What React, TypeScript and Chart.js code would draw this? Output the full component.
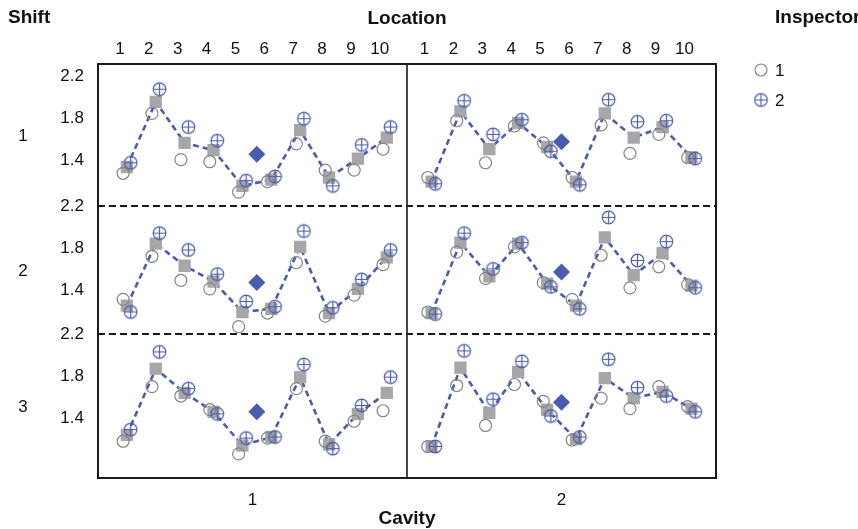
import React, { useEffect, useRef } from 'react';
import { Chart, registerables } from 'chart.js';

Chart.register(...registerables);

// ---------- data ----------
const locationLabels = ['1', '2', '3', '4', '5', '6', '7', '8', '9', '10'];
const cavityLabels = ['1', '2'];
const shiftLabels = ['1', '2', '3'];
const inspectorLabels = ['1', '2'];
const yTickValues = [1.4, 1.8, 2.2];

// Shift 1
const s1c1Insp1 = [1.28, 1.85, 1.41, 1.39, 1.10, 1.20, 1.56, 1.31, 1.31, 1.51];
const s1c1Mean = [1.34, 1.96, 1.57, 1.50, 1.16, 1.22, 1.69, 1.24, 1.42, 1.62];
const s1c1Insp2 = [1.38, 2.08, 1.72, 1.59, 1.21, 1.25, 1.80, 1.16, 1.55, 1.72];
const s1c2Insp1 = [1.24, 1.78, 1.38, 1.73, 1.57, 1.24, 1.74, 1.47, 1.65, 1.43];
const s1c2Mean = [1.20, 1.87, 1.51, 1.76, 1.53, 1.20, 1.85, 1.62, 1.72, 1.43];
const s1c2Insp2 = [1.18, 1.97, 1.65, 1.79, 1.49, 1.17, 1.98, 1.77, 1.78, 1.42];
// Shift 2
const s2c1Insp1 = [1.31, 1.72, 1.49, 1.41, 1.05, 1.18, 1.66, 1.15, 1.35, 1.64];
const s2c1Mean = [1.25, 1.84, 1.63, 1.48, 1.19, 1.22, 1.81, 1.18, 1.41, 1.71];
const s2c1Insp2 = [1.19, 1.94, 1.78, 1.55, 1.29, 1.24, 1.96, 1.23, 1.50, 1.78];
const s2c2Insp1 = [1.19, 1.76, 1.51, 1.81, 1.47, 1.31, 1.73, 1.42, 1.62, 1.45];
const s2c2Mean = [1.18, 1.85, 1.53, 1.84, 1.46, 1.25, 1.90, 1.54, 1.75, 1.44];
const s2c2Insp2 = [1.17, 1.94, 1.60, 1.85, 1.43, 1.22, 2.09, 1.68, 1.86, 1.42];
// Shift 3
const s3c1Insp1 = [1.18, 1.70, 1.61, 1.48, 1.06, 1.21, 1.68, 1.18, 1.37, 1.47];
const s3c1Mean = [1.24, 1.87, 1.64, 1.46, 1.14, 1.22, 1.79, 1.15, 1.44, 1.64];
const s3c1Insp2 = [1.29, 2.03, 1.68, 1.44, 1.21, 1.22, 1.91, 1.11, 1.52, 1.79];
const s3c2Insp1 = [1.13, 1.71, 1.33, 1.72, 1.56, 1.19, 1.59, 1.49, 1.70, 1.51];
const s3c2Mean = [1.13, 1.88, 1.45, 1.84, 1.48, 1.20, 1.78, 1.59, 1.65, 1.49];
const s3c2Insp2 = [1.13, 2.04, 1.58, 1.94, 1.42, 1.22, 1.96, 1.69, 1.61, 1.46];

// cell means (diamonds), per shift: [cavity 1, cavity 2]
const shift1CellMeans = [1.46, 1.58];
const shift2CellMeans = [1.47, 1.57];
const shift3CellMeans = [1.46, 1.55];

// ---------- layout / style ----------
const X_MIN = 0;
const X_MAX = 21.4;
const CAV_OFFSET = 10.55;
const DIVIDER = 10.7;
const JITTER = 0.13;
const DIAMOND_POS = 5.5;
const Y_RANGES = [
  [0.97, 2.32],
  [0.98, 2.2],
  [0.83, 2.2],
];
const FONT = "'Liberation Sans', Arial, Helvetica, sans-serif";
const BLUE = '#4a5cad';
const GRAY_SQ = '#a7a7a9';
const GRAY_CIRCLE = '#858585';
const TEXT = '#111111';

const panels = [
  { shift: 0, cav: 0, i1: s1c1Insp1, m: s1c1Mean, i2: s1c1Insp2, cm: shift1CellMeans[0] },
  { shift: 0, cav: 1, i1: s1c2Insp1, m: s1c2Mean, i2: s1c2Insp2, cm: shift1CellMeans[1] },
  { shift: 1, cav: 0, i1: s2c1Insp1, m: s2c1Mean, i2: s2c1Insp2, cm: shift2CellMeans[0] },
  { shift: 1, cav: 1, i1: s2c2Insp1, m: s2c2Mean, i2: s2c2Insp2, cm: shift2CellMeans[1] },
  { shift: 2, cav: 0, i1: s3c1Insp1, m: s3c1Mean, i2: s3c1Insp2, cm: shift3CellMeans[0] },
  { shift: 2, cav: 1, i1: s3c2Insp1, m: s3c2Mean, i2: s3c2Insp2, cm: shift3CellMeans[1] },
];

function makePlusCircle(r: number, color: string): HTMLCanvasElement {
  const size = Math.ceil(r * 2 + 4);
  const c = document.createElement('canvas');
  c.width = size;
  c.height = size;
  const ctx = c.getContext('2d')!;
  const cx = size / 2;
  ctx.strokeStyle = color;
  ctx.lineWidth = 1.2;
  ctx.beginPath();
  ctx.arc(cx, cx, r, 0, Math.PI * 2);
  ctx.stroke();
  ctx.beginPath();
  ctx.moveTo(cx - r, cx);
  ctx.lineTo(cx + r, cx);
  ctx.moveTo(cx, cx - r);
  ctx.lineTo(cx, cx + r);
  ctx.stroke();
  return c;
}

export default function App() {
  const ref = useRef<HTMLCanvasElement | null>(null);

  useEffect(() => {
    const canvas = ref.current;
    if (!canvas) return;
    const plusImg = makePlusCircle(6.3, BLUE);
    const xOf = (cav: number, loc: number) => loc + cav * CAV_OFFSET;

    const datasets: any[] = [];
    panels.forEach((p) => {
      const yId = 'y' + (p.shift + 1);
      datasets.push({
        type: 'line',
        label: 'mean',
        xAxisID: 'x',
        yAxisID: yId,
        data: p.m.map((v, i) => ({ x: xOf(p.cav, i + 1), y: v })),
        borderColor: BLUE,
        borderWidth: 2.6,
        borderDash: [6, 4],
        pointStyle: 'rect',
        pointRadius: 8.7,
        pointBackgroundColor: GRAY_SQ,
        pointBorderWidth: 0,
        pointBorderColor: GRAY_SQ,
        fill: false,
        tension: 0,
        order: 4,
      });
      datasets.push({
        type: 'scatter',
        label: inspectorLabels[0],
        xAxisID: 'x',
        yAxisID: yId,
        data: p.i1.map((v, i) => ({ x: xOf(p.cav, i + 1) - JITTER, y: v })),
        pointStyle: 'circle',
        pointRadius: 6,
        borderColor: GRAY_CIRCLE,
        backgroundColor: 'rgba(0,0,0,0)',
        borderWidth: 1.2,
        order: 3,
      });
      datasets.push({
        type: 'scatter',
        label: inspectorLabels[1],
        xAxisID: 'x',
        yAxisID: yId,
        data: p.i2.map((v, i) => ({ x: xOf(p.cav, i + 1) + JITTER, y: v })),
        pointStyle: plusImg,
        pointRadius: 6,
        order: 2,
      });
      datasets.push({
        type: 'scatter',
        label: 'cell mean',
        xAxisID: 'x',
        yAxisID: yId,
        data: [{ x: xOf(p.cav, DIAMOND_POS), y: p.cm }],
        pointStyle: 'rectRot',
        pointRadius: 8.5,
        backgroundColor: BLUE,
        borderColor: BLUE,
        borderWidth: 0,
        order: 1,
      });
    });

    const line = (ctx: CanvasRenderingContext2D, x1: number, y1: number, x2: number, y2: number) => {
      ctx.beginPath();
      ctx.moveTo(x1, y1);
      ctx.lineTo(x2, y2);
      ctx.stroke();
    };

    const framePlugin = {
      id: 'frame',
      beforeDatasetsDraw(chart: any) {
        const { ctx, chartArea: a, scales } = chart;
        ctx.save();
        ctx.strokeStyle = '#1a1a1a';
        ctx.lineWidth = 2;
        ctx.setLineDash([7, 4]);
        ['y2', 'y3'].forEach((id) => {
          const y = Math.round(scales[id].top);
          line(ctx, a.left, y, a.right, y);
        });
        ctx.setLineDash([]);
        const xd = scales.x.getPixelForValue(DIVIDER);
        ctx.lineWidth = 1.6;
        line(ctx, xd, a.top, xd, a.bottom);
        ctx.lineWidth = 2;
        ctx.strokeRect(a.left, a.top, a.right - a.left, a.bottom - a.top);
        ctx.restore();
      },
      afterDraw(chart: any) {
        const { ctx, scales } = chart;
        ctx.save();
        ctx.fillStyle = TEXT;
        ctx.textBaseline = 'middle';
        ctx.font = `bold 19px ${FONT}`;
        ctx.textAlign = 'left';
        ctx.fillText('Shift', 8, 18);
        ctx.fillText('Inspector', 775, 18);
        ctx.font = `17px ${FONT}`;
        ctx.textAlign = 'center';
        shiftLabels.forEach((lab, i) => {
          const s = scales['y' + (i + 1)];
          ctx.fillText(lab, 23, (s.top + s.bottom) / 2 + 1);
        });
        // legend
        ctx.textAlign = 'left';
        ctx.strokeStyle = GRAY_CIRCLE;
        ctx.lineWidth = 1.2;
        ctx.beginPath();
        ctx.arc(761, 70, 6, 0, Math.PI * 2);
        ctx.stroke();
        ctx.fillText(inspectorLabels[0], 775, 71);
        ctx.drawImage(plusImg, 761 - plusImg.width / 2, 100 - plusImg.height / 2);
        ctx.fillText(inspectorLabels[1], 775, 101);
        ctx.restore();
      },
    };

    const yAxis = (idx: number) => ({
      type: 'linear',
      position: 'left',
      stack: 'rows',
      stackWeight: Y_RANGES[idx][1] - Y_RANGES[idx][0],
      weight: 3 - idx,
      min: Y_RANGES[idx][0],
      max: Y_RANGES[idx][1],
      afterBuildTicks: (s: any) => {
        s.ticks = yTickValues.map((v) => ({ value: v }));
      },
      afterFit: (s: any) => {
        s.width = 98;
      },
      ticks: {
        callback: (v: any) => Number(v).toFixed(1),
        font: { size: 17, family: FONT },
        color: TEXT,
        padding: 14,
        autoSkip: false,
      },
      grid: { display: false, drawTicks: false },
      border: { display: false },
    });

    const chart = new Chart(canvas, {
      type: 'scatter',
      data: { datasets },
      plugins: [framePlugin],
      options: {
        animation: false,
        responsive: false,
        maintainAspectRatio: false,
        devicePixelRatio: 1,
        layout: { padding: { left: 0, right: 142, top: 0, bottom: 0 } },
        plugins: { legend: { display: false }, tooltip: { enabled: false } },
        scales: {
          x: {
            type: 'linear',
            position: 'bottom',
            min: X_MIN,
            max: X_MAX,
            afterBuildTicks: (s: any) => {
              s.ticks = [DIVIDER / 2, (DIVIDER + X_MAX) / 2].map((v) => ({ value: v }));
            },
            afterFit: (s: any) => {
              s.height = 51;
            },
            ticks: {
              callback: (_v: any, i: number) => cavityLabels[i],
              font: { size: 17, family: FONT },
              color: TEXT,
              padding: 12,
              autoSkip: false,
              maxRotation: 0,
            },
            grid: { display: false, drawTicks: false },
            border: { display: false },
            title: {
              display: true,
              text: 'Cavity',
              color: TEXT,
              font: { size: 19, weight: 'bold', family: FONT },
              padding: { top: 0, bottom: -1 },
            },
          },
          xTop: {
            type: 'linear',
            position: 'top',
            min: X_MIN,
            max: X_MAX,
            afterBuildTicks: (s: any) => {
              const t: any[] = [];
              cavityLabels.forEach((_c, ci) => {
                locationLabels.forEach((_l, li) => t.push({ value: xOf(ci, li + 1) }));
              });
              s.ticks = t;
            },
            afterFit: (s: any) => {
              s.height = 64;
            },
            ticks: {
              callback: (_v: any, i: number) => locationLabels[i % locationLabels.length],
              font: { size: 17, family: FONT },
              color: TEXT,
              padding: 4,
              labelOffset: -7,
              autoSkip: false,
              maxRotation: 0,
            },
            grid: { display: false, drawTicks: false },
            border: { display: false },
            title: {
              display: true,
              text: 'Location',
              color: TEXT,
              font: { size: 19, weight: 'bold', family: FONT },
              padding: { top: 7, bottom: 0 },
            },
          },
          y1: yAxis(0),
          y2: yAxis(1),
          y3: yAxis(2),
        } as any,
      },
    } as any);

    return () => chart.destroy();
  }, []);

  return (
    <div style={{ position: 'fixed', left: 0, top: 0, width: 858, height: 529, background: '#fff' }}>
      <canvas ref={ref} width={858} height={529} style={{ display: 'block', width: 858, height: 529 }} />
    </div>
  );
}
